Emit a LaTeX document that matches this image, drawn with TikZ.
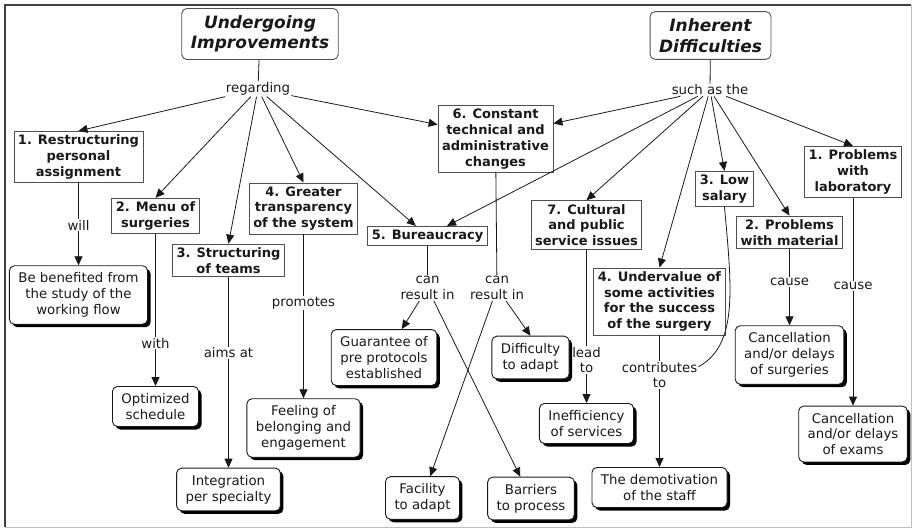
\documentclass[tikz,border=0pt]{standalone}
\usepackage{fontspec}
\setmainfont{DejaVu Sans}
\usetikzlibrary{arrows.meta,shadows}
\definecolor{ink}{RGB}{25,25,25}
\definecolor{edge}{RGB}{80,80,80}
\definecolor{rim}{RGB}{190,190,190}

\begin{document}
\begin{tikzpicture}[x=1pt,y=-1pt,
    topic/.style={draw=edge,line width=0.9pt,rounded corners=5pt,align=center,inner xsep=9pt,inner ysep=7pt,
      text=ink,font=\fontsize{17}{20.5}\selectfont\bfseries\itshape},
    issue/.style={draw=edge,line width=0.9pt,align=center,inner xsep=4pt,inner ysep=3.5pt,
      text=ink,font=\fontsize{13}{15.8}\selectfont\bfseries},
    leaf/.style={draw=ink,line width=0.9pt,fill=white,rounded corners=5pt,align=center,inner xsep=9pt,inner ysep=7pt,
      text=ink,font=\fontsize{13.3}{15.8}\selectfont,
      drop shadow={shadow xshift=3pt,shadow yshift=-3pt,fill=black,opacity=1}},
    link/.style={align=center,inner sep=1pt,text=ink,font=\fontsize{13.3}{15.8}\selectfont},
    conn/.style={draw=ink,line width=0.8pt},
    arr/.style={conn,-{Triangle[length=9pt,width=8pt]}}]
  \useasboundingbox (0,0) rectangle (912,528);
  \draw[black!75,line width=1.5pt] (5,527) -- (5,5) -- (911,5);
  \draw[rim] (5,527) -- (911,527) -- (911,5);
  % left side
  \node[topic] (ui) at (260,34) {Undergoing\\Improvements};
  \node[link] (reg) at (258,89) {regarding};
  \node[issue] (r1) at (78.5,157) {1. Restructuring\\personal\\assignment};
  \node[issue] (m2) at (155.5,216) {2. Menu of\\surgeries};
  \node[issue] (s3) at (228.5,260.5) {3. Structuring\\of teams};
  \node[issue] (g4) at (303.5,208.5) {4. Greater\\transparency\\of the system};
  \node[issue] (b5) at (427.5,236) {5. Bureaucracy};
  \node[issue] (c6) at (495.5,139) {6. Constant\\technical and\\administrative\\changes};
  \node[link] (will) at (78.5,225) {will};
  \node[link] (with) at (155.5,343) {with};
  \node[link] (aims) at (228.5,353) {aims at};
  \node[link] (prom) at (303.5,303) {promotes};
  \node[link] (cr5) at (427.5,288) {can\\result in};
  \node[link] (cr6) at (497,288) {can\\result in};
  \node[leaf] (benef) at (78.5,295) {Be benefited from\\the study of the\\working flow};
  \node[leaf] (optim) at (155.5,406.5) {Optimized\\schedule};
  \node[leaf] (integ) at (228.5,489.5) {Integration\\per specialty};
  \node[leaf] (feel) at (303.5,428) {Feeling of\\belonging and\\engagement};
  \node[leaf] (guar) at (384,357.5) {Guarantee of\\pre protocols\\established};
  \node[leaf] (facil) at (422.5,498) {Facility\\to adapt};
  \node[leaf] (barr) at (531,498.5) {Barriers\\to process};
  \node[leaf] (diff) at (530.5,357.5) {Difficulty\\to adapt};
  % right side
  \node[topic] (id) at (710.5,35.5) {Inherent\\Difficulties};
  \node[link] (such) at (710,90) {such as the};
  \node[issue] (c7) at (586.5,225) {7. Cultural\\and public\\service issues};
  \node[issue] (u4) at (659.5,301.5) {4. Undervalue of\\some activities\\for the success\\of the surgery};
  \node[issue] (l3) at (724.5,189) {3. Low\\salary};
  \node[issue] (pm2) at (789.5,232.5) {2. Problems\\with material};
  \node[issue] (pl1) at (853,172) {1. Problems\\with\\laboratory};
  \node[link] (lead) at (586.5,360) {lead\\to};
  \node[link] (contr) at (659.5,375) {contributes\\to};
  \node[link] (cause2) at (789.5,282) {cause};
  \node[link] (cause1) at (853,286) {cause};
  \node[leaf] (ineff) at (586.5,423.5) {Inefficiency\\of services};
  \node[leaf] (demot) at (659.5,487.5) {The demotivation\\of the staff};
  \node[leaf] (canc1) at (789.5,355) {Cancellation\\and/or delays\\of surgeries};
  \node[leaf] (canc2) at (853,434) {Cancellation\\and/or delays\\of exams};

  \draw[conn] (ui) -- (reg);
  \draw[conn] (id) -- (such);
  \foreach \t in {r1,m2,s3,g4} \draw[arr] (reg) -- (\t.north);
  \draw[arr] (reg) -- (b5);
  \draw[arr] (reg) -- (c6.166);
  \draw[arr] (such) -- (c6.15);
  \draw[arr] (such) -- (b5);
  \foreach \t in {c7,u4,l3,pm2,pl1} \draw[arr] (such) -- (\t.north);
  \foreach \a/\l/\b in {r1/will/benef,m2/with/optim,s3/aims/integ,g4/prom/feel,
      c7/lead/ineff,u4/contr/demot,pm2/cause2/canc1,pl1/cause1/canc2}{
    \draw[conn] (\a) -- (\l);
    \draw[arr] (\l) -- (\b);}
  \draw[conn] (b5) -- (cr5);
  \draw[arr] (cr5) -- (guar);
  \draw[arr] (cr5) -- (barr);
  \draw[conn] (c6) -- (cr6);
  \draw[arr] (cr6) -- (diff.north);
  \draw[arr] (cr6) -- (facil);
  \draw[conn] (l3.south) .. controls (732,290) and (738,345) .. (contr.12);
\end{tikzpicture}
\end{document}
